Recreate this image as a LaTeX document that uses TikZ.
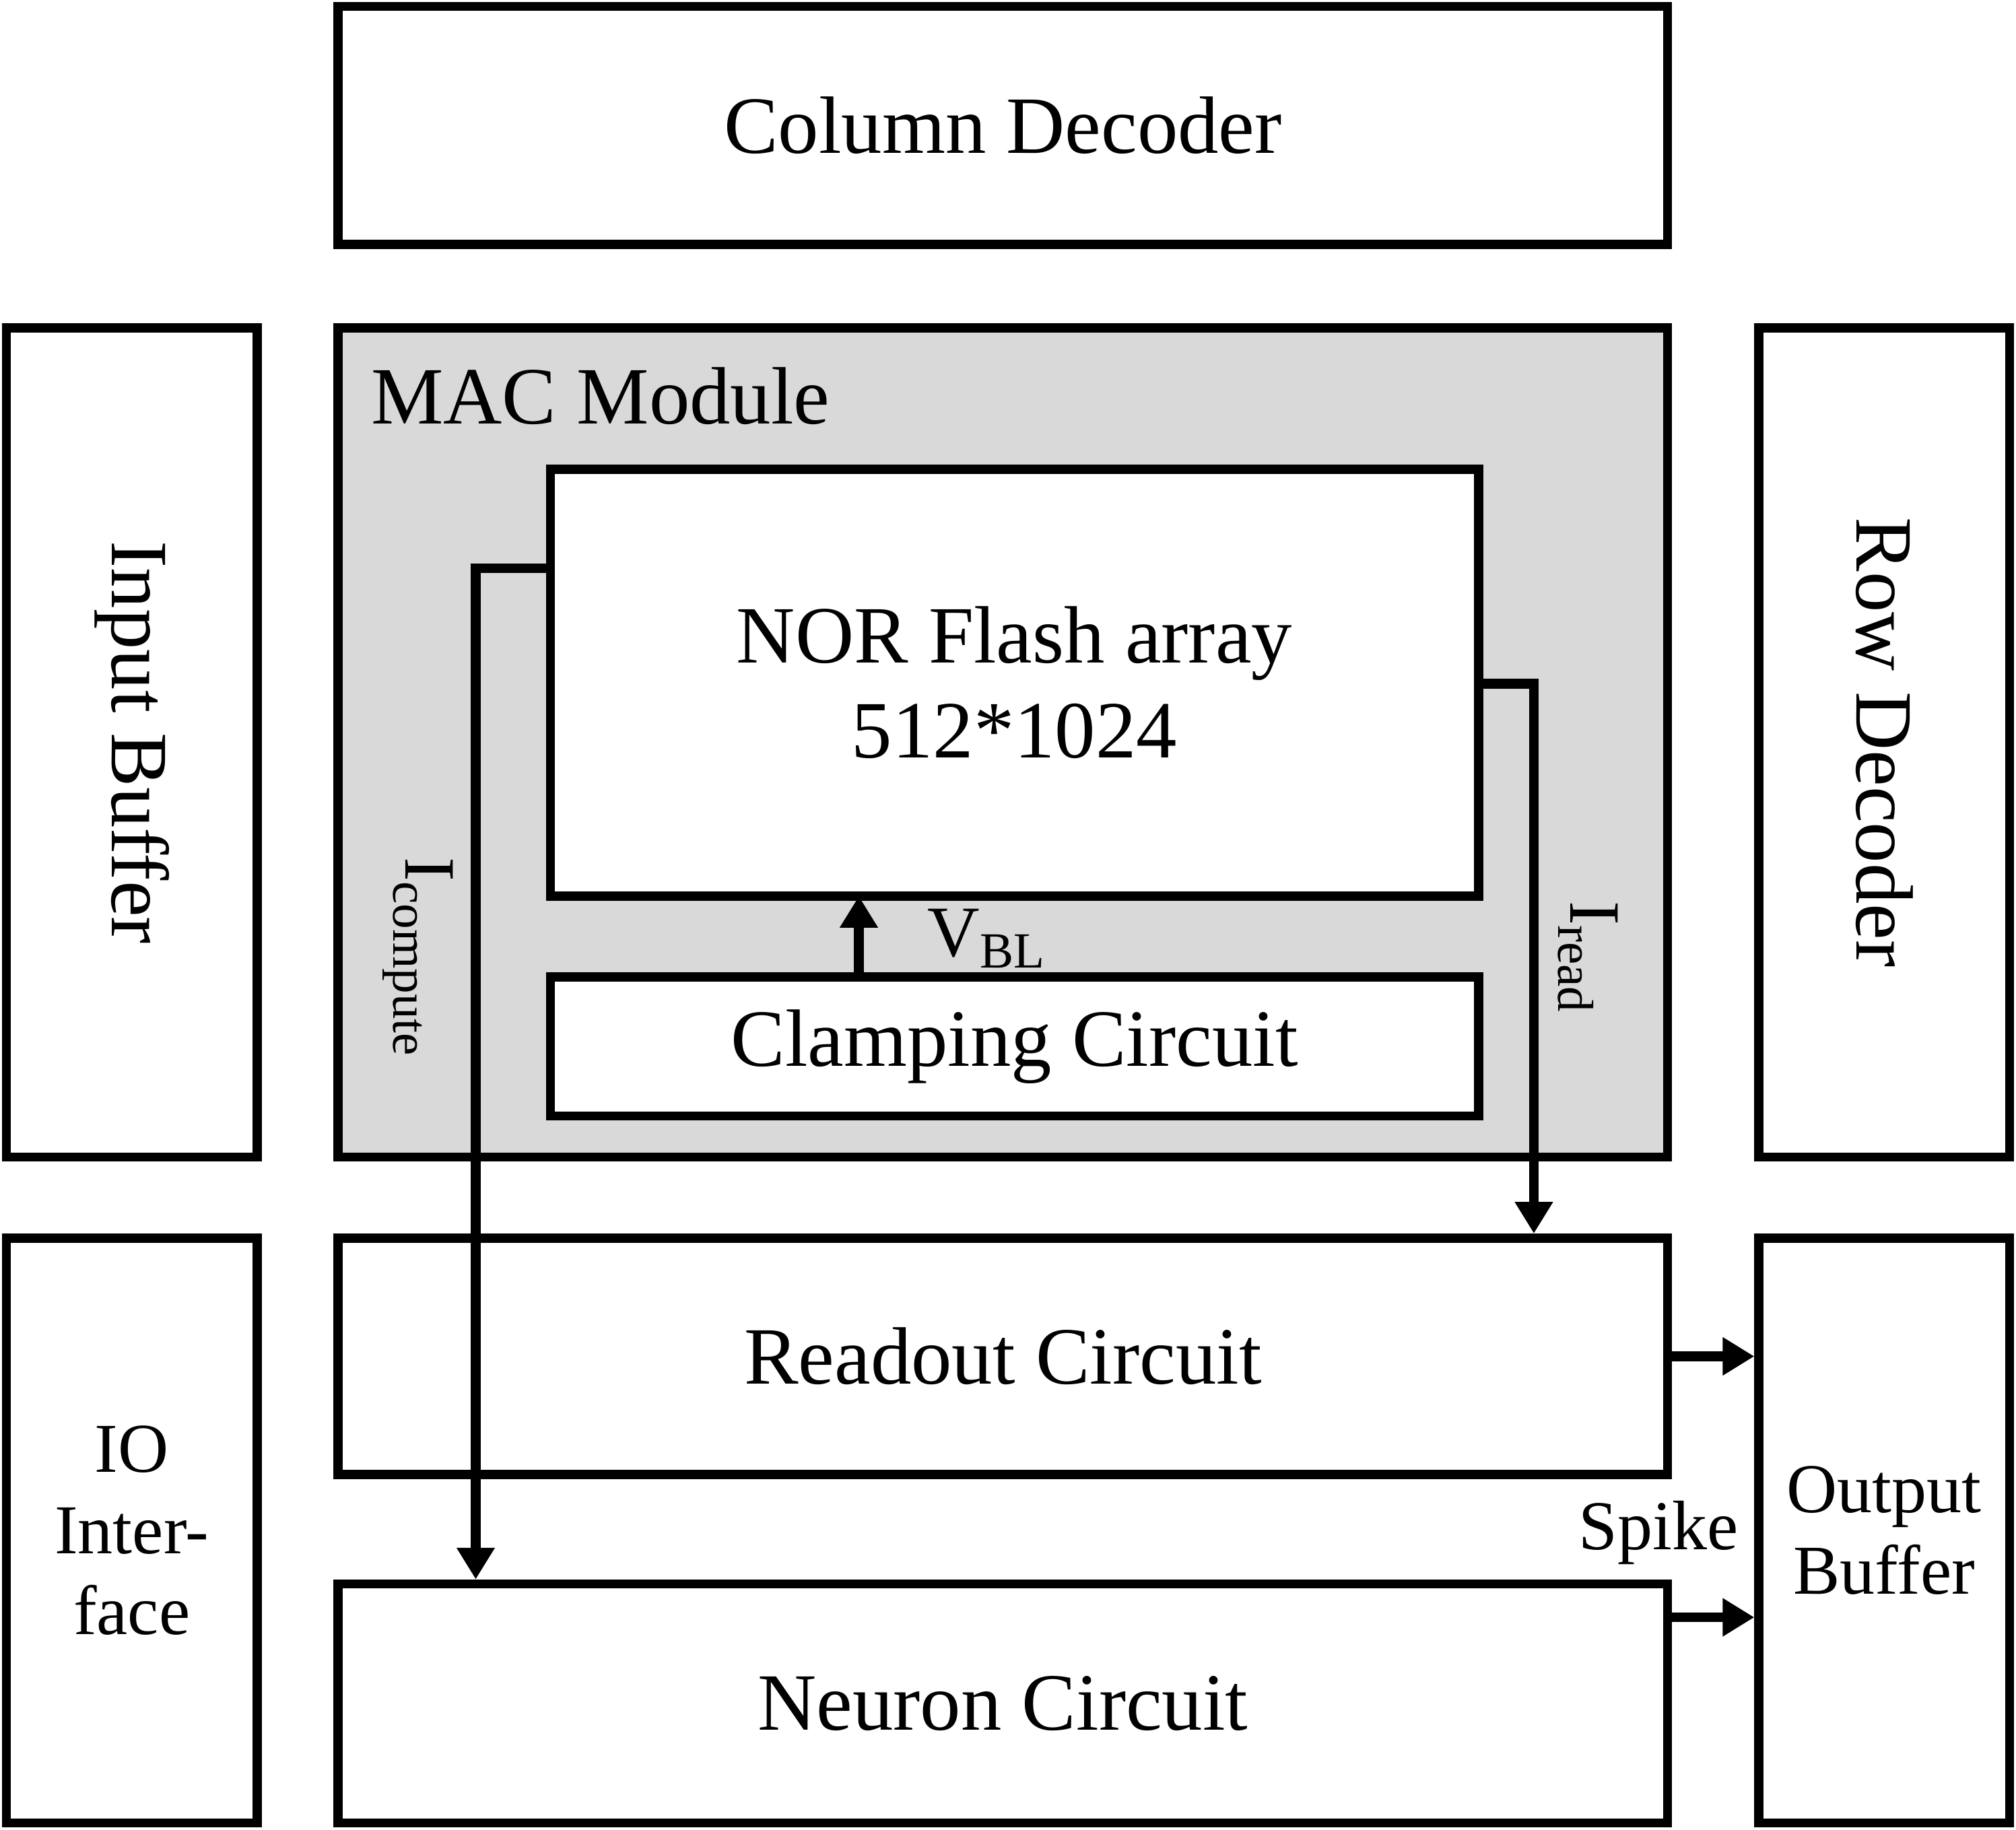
\documentclass[tikz,border=0pt]{standalone}
\usepackage{fontspec}
\setmainfont{Liberation Serif}
\usetikzlibrary{positioning,arrows.meta}
\definecolor{macgray}{RGB}{217,217,217}
\tikzset{
  box/.style={draw=black, line width=2pt, fill=white, inner sep=0pt, align=center, font=\fontsize{18}{21}\selectfont},
  smallbox/.style={box, font=\fontsize{15.5}{18}\selectfont},
  arr/.style={line width=2.2pt, -{Triangle[length=7pt,width=8pt]}}
}
\begin{document}
\begin{tikzpicture}
			\useasboundingbox (0,0) rectangle (15.68,-14.23);
			%Top and side blocks
			\node[box, minimum width=10.34cm, minimum height=1.85cm] (coldec) at (7.80,-0.975) {Column Decoder};
			\node[box, minimum width=1.95cm, minimum height=6.45cm] (inbuf) at (1.025,-5.775) {\rotatebox{-90}{Input Buffer}};
			\node[box, minimum width=1.95cm, minimum height=6.45cm] (rowdec) at (14.655,-5.775) {\rotatebox{-90}{Row Decoder}};
			
			%MAC Module
			\node[box, fill=macgray, minimum width=10.34cm, minimum height=6.45cm] (mac) at (7.80,-5.775) {};
			\node[anchor=west, inner sep=0pt, font=\fontsize{18}{21}\selectfont] (maclabel) at (2.88,-3.08) {MAC Module};
			\node[box, minimum width=7.22cm, minimum height=3.32cm] (nor) at (7.89,-5.31) {NOR Flash array\\512*1024};
			\node[box, minimum width=7.22cm, minimum height=1.08cm] (clamp) at (7.89,-8.14) {Clamping Circuit};
			
			%Bottom blocks
			\node[smallbox, minimum width=1.95cm, minimum height=4.55cm] (io) at (1.025,-11.905) {IO\\Inter-\\face};
			\node[box, minimum width=10.34cm, minimum height=1.84cm] (readout) at (7.80,-10.55) {Readout Circuit};
			\node[box, minimum width=10.34cm, minimum height=1.86cm] (neuron) at (7.80,-13.25) {Neuron Circuit};
			\node[smallbox, minimum width=1.95cm, minimum height=4.55cm] (outbuf) at (14.655,-11.905) {Output\\Buffer};
			
			%Connectors
			\coordinate (cc) at (3.70,-4.42);
			\draw[arr] (nor.west |- cc) -- (cc) -- (cc |- neuron.north);
			\coordinate (cr) at (11.93,-5.32);
			\draw[arr] (nor.east |- cr) -- (cr) -- (cr |- readout.north);
			\draw[arr] (6.68,-7.60) -- (6.68,-6.97);
			\coordinate (sp1) at (0,-10.55);
			\coordinate (sp2) at (0,-12.58);
			\draw[arr] (readout.east |- sp1) -- (outbuf.west |- sp1);
			\draw[arr] (neuron.east |- sp2) -- (outbuf.west |- sp2);
			
			%Labels
			\node[rotate=-90, font=\fontsize{16}{19}\selectfont] (icomp) at (3.25,-7.45) {I\textsubscript{compute}};
			\node[rotate=-90, font=\fontsize{16}{19}\selectfont] (iread) at (12.35,-7.45) {I\textsubscript{read}};
			\node[font=\fontsize{16}{19}\selectfont] (vbl) at (7.68,-7.30) {V\textsubscript{BL}};
			\node[font=\fontsize{15.5}{18}\selectfont] (spike) at (12.90,-11.92) {Spike};
		\end{tikzpicture}
\end{document}
